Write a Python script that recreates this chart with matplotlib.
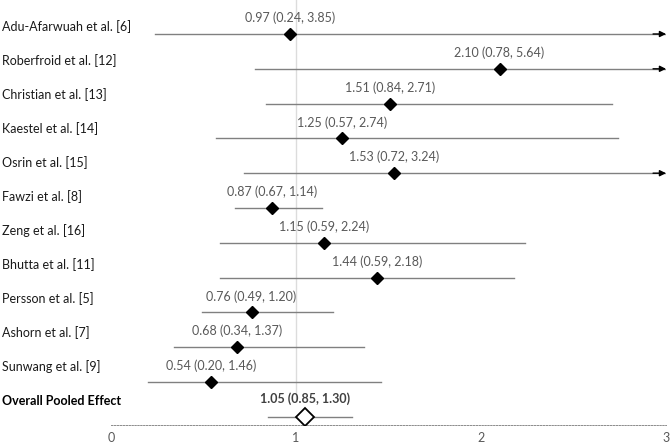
import matplotlib.pyplot as plt
import numpy as np
from matplotlib.transforms import blended_transform_factory

plt.rcParams['font.family'] = ['Lato', 'DejaVu Sans']

## estudios
studies = ['Adu-Afarwuah et al. [6]', 'Roberfroid et al. [12]', 'Christian et al. [13]',
           'Kaestel et al. [14]', 'Osrin et al. [15]', 'Fawzi et al. [8]', 'Zeng et al. [16]',
           'Bhutta et al. [11]', 'Persson et al. [5]', 'Ashorn et al. [7]', 'Sunwang et al. [9]']
## efecto y intervalo
est = np.array([0.97, 2.10, 1.51, 1.25, 1.53, 0.87, 1.15, 1.44, 0.76, 0.68, 0.54])
lo = np.array([0.24, 0.78, 0.84, 0.57, 0.72, 0.67, 0.59, 0.59, 0.49, 0.34, 0.20])
hi = np.array([3.85, 5.64, 2.71, 2.74, 3.24, 1.14, 2.24, 2.18, 1.20, 1.37, 1.46])
## efecto global
pooled_label = 'Overall Pooled Effect'
pooled = [1.05, 0.85, 1.30]
xticks = [0, 1, 2, 3]

xmax = 3
gris = '#595959'
linea = '#808080'
row_px = 34.8

fig = plt.figure(figsize=(6.71, 4.45), dpi=100)
ax = fig.add_axes([111/671, 20/445, 555/671, 425/445])
trans_lbl = blended_transform_factory(fig.transFigure, ax.transData)

n = len(studies)
rows = np.arange(n)
# linea vertical en 1
ax.plot([1, 1], [-1, n - 0.45], color='#dcdcdc', lw=1, zorder=0)

for i in range(n):
    right = min(hi[i], xmax)
    ax.plot([lo[i], right], [i, i], color=linea, lw=1, zorder=1)
    if hi[i] > xmax:
        ax.annotate('', xy=(xmax, i), xytext=(xmax - 0.07, i),
                    arrowprops=dict(arrowstyle='-|>', color='black', lw=1,
                                    mutation_scale=9, shrinkA=0, shrinkB=0))
    ax.text(est[i], i - 16/row_px, '%.2f (%.2f, %.2f)' % (est[i], lo[i], hi[i]),
            ha='center', va='center', fontsize=9, color=gris)
    # etiqueta a la izquierda
    ax.text(2/671, (27 + 34.0*i - 34)/row_px, studies[i], transform=trans_lbl,
            ha='left', va='center', fontsize=9, color='#1a1a1a')

ax.plot(est, rows, 'D', color='black', ms=6.5, zorder=3)

# global
ax.plot([pooled[1], pooled[2]], [n, n], color=linea, lw=1, zorder=1)
ax.plot([pooled[0]], [n], 'D', mfc='white', mec='black', mew=1.3, ms=9.5, zorder=3)
ax.text(pooled[0], n - 18/row_px, '%.2f (%.2f, %.2f)' % tuple(pooled),
        ha='center', va='center', fontsize=9, color='#404040', fontweight='bold')
ax.text(2/671, (27 + 34.0*n - 34)/row_px, pooled_label, transform=trans_lbl,
        ha='left', va='center', fontsize=9, color='black', fontweight='bold')

ax.set_xlim(0, xmax)
ax.set_ylim((425 - 34)/row_px, -34/row_px)
ax.set_xticks(xticks)
ax.set_xticklabels([str(t) for t in xticks], color=gris, fontsize=9)
ax.tick_params(axis='x', length=0, pad=5)
ax.set_yticks([])
for s in ['top', 'right', 'left']:
    ax.spines[s].set_visible(False)
ax.spines['bottom'].set_linestyle((0, (1.5, 1.5)))
ax.spines['bottom'].set_color('#8c8c8c')
ax.spines['bottom'].set_linewidth(0.7)

plt.savefig('out.png', dpi=100)
